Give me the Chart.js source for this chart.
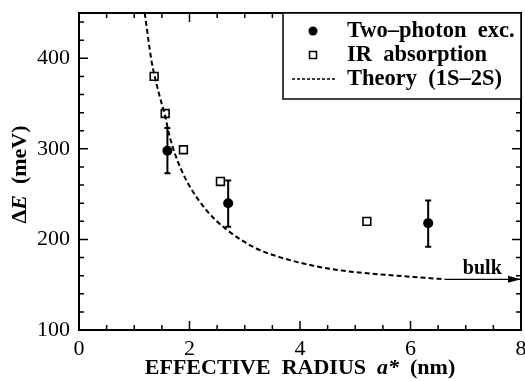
<!DOCTYPE html>
<html>
<head>
<meta charset="utf-8">
<script src="https://cdn.jsdelivr.net/npm/chart.js@4/dist/chart.umd.min.js"></script>
<style>
  html, body { margin: 0; padding: 0; background: #fff; }
  canvas { display: block; }
</style>
</head>
<body>
<canvas id="chart" width="525" height="381"></canvas>
<script>
// Two-photon excitation (filled circles with error bars)
const twoPhotonX = [1.6, 2.7, 6.32];
const twoPhotonY = [298, 240, 218];
const twoPhotonLow = [273, 214, 192];
const twoPhotonHigh = [323, 265, 243];

// IR absorption (open squares)
const irX = [1.36, 1.56, 1.89, 2.56, 5.21];
const irY = [380, 339, 299, 264, 220];

// Theory (1S-2S)
const theoryX = [1.19, 1.31, 1.37, 1.46, 1.555, 1.64, 1.74, 1.85, 2.0, 2.31, 2.67, 3.21, 3.63, 4.24, 4.84, 5.44, 6.05, 6.62];
const theoryY = [450, 398, 380, 358, 337, 314, 294, 277, 259, 232, 211, 190, 180.5, 171, 165, 161.5, 158.6, 156];

// bulk arrow
const bulkX = [6.62, 8];
const bulkY = [156, 156];

const legendLabels = ['Two\u2013photon  exc.', 'IR  absorption', 'Theory  (1S\u20132S)'];

const SERIF = "'Liberation Serif', 'Times New Roman', serif";

function pts(xs, ys) {
  return xs.map((x, i) => ({ x: x, y: ys[i] }));
}

// draw text made of several styled pieces, centred on (x, y)
function drawPieces(ctx, pieces, x, y) {
  let total = 0;
  pieces.forEach(p => { ctx.font = p.font; total += ctx.measureText(p.text).width; });
  let cx = x - total / 2;
  ctx.textAlign = 'left';
  ctx.textBaseline = 'middle';
  pieces.forEach(p => {
    ctx.font = p.font;
    ctx.fillText(p.text, cx, y);
    cx += ctx.measureText(p.text).width;
  });
}

const framePlugin = {
  id: 'frame',
  afterDatasetsDraw(chart) {
    const ctx = chart.ctx;
    const a = chart.chartArea;
    const xs = chart.scales.x, ys = chart.scales.y;
    ctx.save();
    ctx.strokeStyle = '#000';
    ctx.fillStyle = '#000';

    // error bars
    ctx.lineWidth = 2;
    twoPhotonX.forEach((x, i) => {
      const px = xs.getPixelForValue(x);
      const top = ys.getPixelForValue(twoPhotonHigh[i]);
      const bot = ys.getPixelForValue(twoPhotonLow[i]);
      ctx.beginPath();
      ctx.moveTo(px, top); ctx.lineTo(px, bot);
      ctx.moveTo(px - 3, top); ctx.lineTo(px + 3, top);
      ctx.moveTo(px - 3, bot); ctx.lineTo(px + 3, bot);
      ctx.stroke();
    });

    // arrow head at the end of the bulk line
    const ax = xs.getPixelForValue(bulkX[1]);
    const ay = ys.getPixelForValue(bulkY[1]);
    ctx.beginPath();
    ctx.moveTo(ax, ay);
    ctx.lineTo(ax - 13, ay - 3.5);
    ctx.lineTo(ax - 13, ay + 3.5);
    ctx.closePath();
    ctx.fill();

    ctx.font = 'bold 20px ' + SERIF;
    ctx.textAlign = 'center';
    ctx.textBaseline = 'middle';
    ctx.fillText('bulk', xs.getPixelForValue(7.3), ys.getPixelForValue(168));

    // frame
    ctx.lineWidth = 2;
    ctx.strokeRect(a.left, a.top, a.right - a.left, a.bottom - a.top);

    // inward ticks on all four sides
    ctx.lineWidth = 1.5;
    ctx.beginPath();
    for (let v = 0; v <= 8.001; v += 0.5) {
      const px = xs.getPixelForValue(v);
      const len = Math.abs(v % 2) < 1e-6 ? 9 : 5;
      ctx.moveTo(px, a.bottom); ctx.lineTo(px, a.bottom - len);
      ctx.moveTo(px, a.top); ctx.lineTo(px, a.top + len);
    }
    for (let v = 100; v <= 450; v += 20) {
      const py = ys.getPixelForValue(v);
      const len = v % 100 === 0 ? 9 : 5;
      ctx.moveTo(a.left, py); ctx.lineTo(a.left + len, py);
      ctx.moveTo(a.right, py); ctx.lineTo(a.right - len, py);
    }
    ctx.stroke();

    // legend box
    const lx = 283, ly = a.top, lw = a.right - 283, lh = 86;
    ctx.fillStyle = '#fff';
    ctx.fillRect(lx, ly, lw, lh);
    ctx.lineWidth = 1.5;
    ctx.strokeRect(lx, ly, lw, lh);
    ctx.fillStyle = '#000';
    const rows = [31, 55, 79];
    ctx.beginPath();
    ctx.arc(313, rows[0], 4.5, 0, Math.PI * 2);
    ctx.fill();
    ctx.lineWidth = 1.5;
    ctx.strokeRect(309.5, rows[1] - 3.5, 7, 7);
    ctx.setLineDash([3, 2]);
    ctx.beginPath();
    ctx.moveTo(292, rows[2]); ctx.lineTo(336, rows[2]);
    ctx.stroke();
    ctx.setLineDash([]);
    ctx.font = 'bold 22.5px ' + SERIF;
    ctx.textAlign = 'left';
    ctx.textBaseline = 'middle';
    legendLabels.forEach((t, i) => ctx.fillText(t, 347, rows[i]));

    // axis titles with italic symbols
    const b = 'bold 22px ' + SERIF;
    const bi = 'italic bold 22px ' + SERIF;
    drawPieces(ctx, [
      { text: 'EFFECTIVE  RADIUS  ', font: b },
      { text: 'a*', font: bi },
      { text: '  (nm)', font: b }
    ], (a.left + a.right) / 2, 368);

    ctx.translate(20, (a.top + a.bottom) / 2 + 3);
    ctx.rotate(-Math.PI / 2);
    drawPieces(ctx, [
      { text: '\u0394', font: b },
      { text: 'E', font: bi },
      { text: '  (meV)', font: b }
    ], 0, 0);
    ctx.restore();
  }
};

new Chart(document.getElementById('chart').getContext('2d'), {
  type: 'scatter',
  data: {
    datasets: [
      {
        label: 'Theory (1S-2S)',
        type: 'line',
        data: pts(theoryX, theoryY),
        borderColor: '#000',
        borderWidth: 2,
        borderDash: [5, 3],
        cubicInterpolationMode: 'monotone',
        pointRadius: 0,
        fill: false
      },
      {
        label: 'bulk',
        type: 'line',
        data: pts(bulkX, bulkY),
        borderColor: '#000',
        borderWidth: 1.3,
        pointRadius: 0,
        fill: false,
        clip: false
      },
      {
        label: 'IR absorption',
        data: pts(irX, irY),
        pointStyle: 'rect',
        pointRadius: 5.5,
        backgroundColor: '#fff',
        borderColor: '#000',
        borderWidth: 1.6
      },
      {
        label: 'Two-photon exc.',
        data: pts(twoPhotonX, twoPhotonY),
        pointStyle: 'circle',
        pointRadius: 5,
        backgroundColor: '#000',
        borderColor: '#000',
        borderWidth: 0
      }
    ]
  },
  options: {
    responsive: false,
    animation: false,
    layout: { autoPadding: false, padding: { top: 13, right: 4, left: 0, bottom: 0 } },
    plugins: { legend: { display: false }, tooltip: { enabled: false } },
    scales: {
      x: {
        type: 'linear',
        min: 0,
        max: 8,
        grid: { display: false, drawTicks: false },
        border: { display: false },
        ticks: {
          stepSize: 2,
          padding: 6,
          color: '#000',
          maxRotation: 0,
          font: { family: SERIF, size: 22 }
        },
        afterFit(scale) {
          scale.height = 51;
          scale.paddingLeft = 0;
          scale.paddingRight = 0;
        }
      },
      y: {
        min: 100,
        max: 450,
        grid: { display: false, drawTicks: false },
        border: { display: false },
        ticks: {
          stepSize: 100,
          padding: 9,
          color: '#000',
          font: { family: SERIF, size: 22 },
          callback: v => (v % 100 === 0 ? v : '')
        },
        afterFit(scale) {
          scale.width = 79;
          scale.paddingTop = 0;
          scale.paddingBottom = 0;
        }
      }
    }
  },
  plugins: [framePlugin]
});
</script>
</body>
</html>
